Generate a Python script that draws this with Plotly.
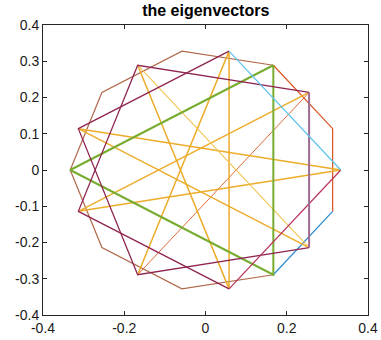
import plotly.graph_objects as go

# 18 vertices on the circle (eigenvector components)
vx = [0.333, 0.313, 0.255, 0.167, 0.058, -0.058, -0.167, -0.255, -0.313,
      -0.333, -0.313, -0.255, -0.167, -0.058, 0.058, 0.167, 0.255, 0.313]
vy = [0.0, 0.114, 0.214, 0.289, 0.328, 0.328, 0.289, 0.214, 0.114,
      0.0, -0.114, -0.214, -0.289, -0.328, -0.328, -0.289, -0.214, -0.114]

# paths (vertex index sequences) with their colours and widths
paths = [
    ([3, 5, 7, 9, 11, 13, 15], "#B0684A", 1.2),
    ([15, 17], "#2A8AD4", 1.2),
    ([17, 1, 3], "#D9531E", 1.2),
    ([12, 2], "#DE6A3A", 1.0),
    ([2, 10, 0, 8, 16], "#EDAC2A", 1.5),
    ([6, 14, 4, 12], "#EDAC2A", 1.5),
    ([16, 6], "#F2C452", 1.1),
    ([3, 9, 15, 3], "#77AC30", 2.0),
    ([4, 8, 12, 16], "#8F2552", 1.3),
    ([2, 6, 10, 14], "#8F2552", 1.3),
    ([14, 0], "#B8325A", 1.2),
    ([16, 2], "#A06A90", 2.0),
    ([0, 4], "#5BC2EE", 1.2),
]

x_ticks = [-0.4, -0.2, 0, 0.2, 0.4]
x_tick_labels = ["-0.4", "-0.2", "0", "0.2", "0.4"]
y_ticks = [-0.4, -0.3, -0.2, -0.1, 0, 0.1, 0.2, 0.3, 0.4]
y_tick_labels = ["-0.4", "-0.3", "-0.2", "-0.1", "0", "0.1", "0.2", "0.3", "0.4"]

fig = go.Figure()
for idx, color, width in paths:
    fig.add_trace(go.Scatter(
        x=[vx[i] for i in idx], y=[vy[i] for i in idx],
        mode="lines", line=dict(color=color, width=width),
        showlegend=False, hoverinfo="skip"))

axis_common = dict(
    showgrid=False, zeroline=False, showline=True, linecolor="#262626",
    linewidth=1, mirror="ticks", ticks="inside", ticklen=4, tickcolor="#262626",
    automargin=False,
    tickfont=dict(family="Liberation Sans, Arial, sans-serif", size=14, color="#1a1a1a"),
)

fig.update_layout(
    width=381, height=340,
    margin=dict(l=43, r=13, t=25, b=25),
    paper_bgcolor="white", plot_bgcolor="white",
    title=dict(text="<b>the eigenvectors</b>", x=0.54, xanchor="center",
               y=0.968, yanchor="middle", automargin=False,
               font=dict(family="Liberation Sans, Arial, sans-serif", size=16, color="black")),
    xaxis=dict(range=[-0.4, 0.4], tickvals=x_ticks, ticktext=x_tick_labels, **axis_common),
    yaxis=dict(range=[-0.4, 0.4], tickvals=y_ticks, ticktext=y_tick_labels, **axis_common),
)

fig.write_html("out.html", config={"displayModeBar": False},
               post_script="document.body.style.margin='0';")
